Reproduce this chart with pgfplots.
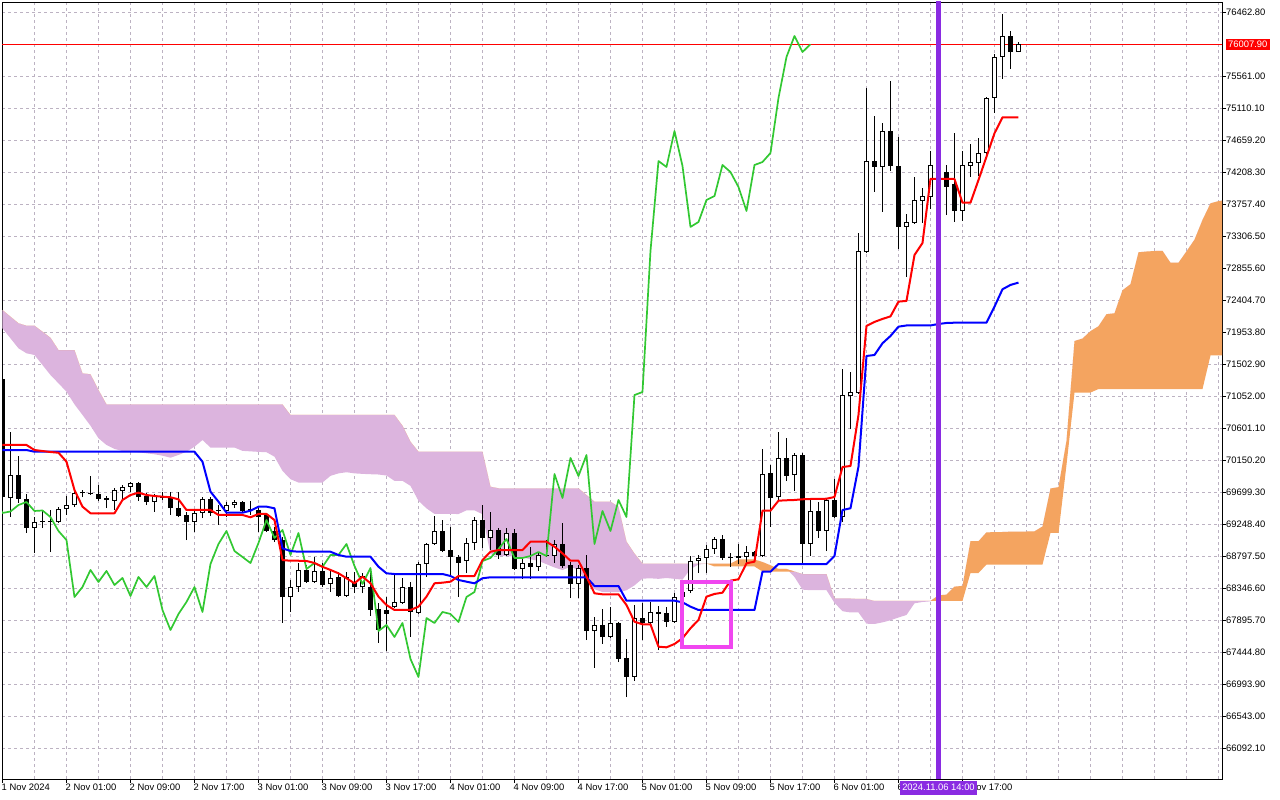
\documentclass[border=0pt]{standalone}
\usepackage{pgfplots}
\pgfplotsset{compat=1.18}
\usepackage{pgfplotstable}
\usepgfplotslibrary{fillbetween}
\usepackage{fontspec}
\setmainfont{Liberation Sans}
\definecolor{kumoDown}{RGB}{220,180,222}
\definecolor{kumoUp}{RGB}{244,164,96}
\definecolor{gridc}{RGB}{188,178,194}
\definecolor{chikou}{RGB}{50,200,50}
\definecolor{vline}{RGB}{138,43,226}
\definecolor{boxc}{RGB}{240,70,240}

% candles: hour index from 1 Nov 17:00, open high low close
\pgfplotstableread{
k o h l c
0 71292 71306 69587 69629
1 69615 70545 69347 69939
2 69939 70207 69545 69601
3 69601 69671 69122 69192
4 69192 69347 68840 69277
5 69291 69446 69192 69277
6 69284 69446 68854 69277
7 69277 69488 69263 69460
8 69460 69643 69376 69516
9 69516 69714 69488 69686
10 69679 69728 69629 69686
11 69686 69925 69664 69671
12 69671 69798 69573 69601
13 69615 69643 69474 69587
14 69573 69756 69446 69728
15 69714 69798 69587 69770
16 69770 69841 69700 69826
17 69826 69841 69573 69629
18 69643 69686 69516 69559
19 69559 69671 69418 69643
20 69643 69700 69587 69615
21 69615 69700 69376 69474
22 69474 69700 69347 69362
23 69376 69418 69023 69277
24 69277 69446 69136 69404
25 69404 69629 69333 69601
26 69601 69629 69362 69404
27 69432 69516 69235 69425
28 69432 69559 69347 69516
29 69516 69587 69474 69559
30 69559 69573 69418 69432
31 69446 69573 69376 69439
32 69446 69474 69136 69347
33 69376 69404 69136 69150
34 69150 69207 68995 69023
35 69023 69066 67854 68220
36 68220 68460 68009 68361
37 68361 68699 68291 68601
38 68601 68671 68418 68432
39 68432 68784 68418 68587
40 68587 68699 68361 68389
41 68404 68601 68291 68488
42 68502 68573 68220 68234
43 68234 68573 68220 68502
44 68418 68573 68276 68361
45 68361 68558 68276 68516
46 68361 68629 67953 68037
47 68051 68136 67572 67755
48 68037 68220 67459 67981
49 68079 68530 68065 68150
50 68136 68488 68122 68361
51 68361 68432 67657 68009
52 67995 68713 67981 68685
53 68685 68981 68502 68967
54 68967 69362 68953 69150
55 69150 69305 68854 68868
56 68882 69207 68516 68784
57 68784 68812 68220 68699
58 68727 69052 68558 68981
59 68981 69347 68882 69305
60 69305 69516 68911 69052
61 69052 69418 68882 69164
62 69164 69192 68756 68812
63 68812 69192 68798 69122
64 69122 69178 68601 68615
65 68615 68784 68474 68699
66 68699 68925 68474 68643
67 68643 68854 68587 68812
68 68798 69023 68784 68812
69 68798 69023 68699 68967
70 68967 69263 68629 68657
71 68671 68713 68206 68404
72 68404 68671 68206 68629
73 68629 68812 67614 67741
74 67741 67939 67220 67826
75 67826 68051 67558 67657
76 67657 68079 67643 67854
77 67854 67868 67304 67347
78 67361 67628 66811 67093
79 67093 68107 67037 67924
80 67924 68136 67614 67854
81 67854 68150 67840 68009
82 68009 68093 67473 67981
83 67995 68079 67798 67868
84 67868 68276 67854 68220
85 68220 68347 68178 68291
86 68305 68798 68276 68727
87 68727 68812 68558 68770
88 68770 68953 68558 68896
89 68896 69066 68826 69037
90 69037 69094 68741 68770
91 68777 68840 68643 68770
92 68770 68967 68685 68798
93 68784 68939 68685 68854
94 68854 68868 68741 68798
95 68798 70305 68784 69953
96 69967 70080 69207 69615
97 69629 70545 69587 70179
98 70179 70461 69854 69925
99 69939 70249 69714 70221
100 70221 70249 68699 68967
101 68967 69615 68798 69432
102 69432 69559 69052 69150
103 69150 69601 68868 69587
104 69587 69883 69340 69347
105 69347 71433 69277 71066
106 71052 71390 70587 71108
107 71094 73349 71087 73095
108 73081 75392 73067 74363
109 74363 74998 73927 74279
110 74279 74899 73645 74786
111 74786 75491 74222 74293
112 74293 74702 73124 73434
113 73434 73617 72729 73504
114 73490 74138 73476 73814
115 73800 73983 73490 73870
116 73856 74504 73687 74307
117 74307 74377 74095 74208
118 74208 74307 73602 73997
119 74039 74758 73504 73659
120 73659 74504 73518 74307
121 74293 74603 74138 74349
122 74335 74688 74152 74476
123 74476 75265 74420 75251
124 75251 75871 75040 75829
125 75829 76435 75519 76125
126 76125 76195 75660 75899
127 75899 76040 75899 76008
}\candles

% Tenkan-sen (t) and Kijun-sen (kj)
\pgfplotstableread{
k t kj
0 70362 70291
1 70362 70291
2 70362 70291
3 70362 70291
4 70291 70267
5 70277 70267
6 70263 70267
7 70253 70267
8 70127 70267
9 69728 70267
10 69493 70267
11 69400 70267
12 69400 70267
13 69400 70267
14 69400 70267
15 69587 70267
16 69657 70267
17 69690 70267
18 69657 70267
19 69643 70267
20 69634 70267
21 69625 70267
22 69597 70267
23 69446 70267
24 69446 70267
25 69446 70127
26 69446 69704
27 69376 69563
28 69376 69408
29 69376 69408
30 69376 69408
31 69343 69436
32 69390 69493
33 69390 69493
34 69305 69470
35 68741 68906
36 68731 68868
37 68731 68858
38 68727 68858
39 68699 68858
40 68646 68858
41 68601 68858
42 68554 68812
43 68484 68788
44 68413 68788
45 68507 68788
46 68413 68788
47 68225 68647
48 68107 68554
49 68037 68544
50 68037 68544
51 68037 68544
52 68084 68544
53 68225 68544
54 68413 68544
55 68422 68544
56 68436 68516
57 68516 68460
58 68516 68436
59 68516 68413
60 68741 68484
61 68858 68498
62 68882 68498
63 68882 68498
64 68882 68498
65 68882 68498
66 68999 68498
67 68999 68498
68 68999 68498
69 68929 68498
70 68835 68498
71 68731 68498
72 68731 68498
73 68507 68498
74 68272 68375
75 68258 68375
76 68258 68375
77 68258 68375
78 68107 68168
79 67872 68168
80 67835 68168
81 67835 68168
82 67520 68168
83 67511 68168
84 67558 68168
85 67639 68145
86 67780 68084
87 67897 68037
88 68225 68037
89 68263 68037
90 68281 68037
91 68450 68037
92 68470 68037
93 68695 68037
94 68718 68037
95 69436 68577
96 69436 68577
97 69577 68685
98 69583 68685
99 69587 68685
100 69597 68685
101 69601 68685
102 69601 68685
103 69605 68685
104 69629 68798
105 70052 69446
106 70066 69470
107 70785 70057
108 72039 71616
109 72096 71630
110 72138 71795
111 72174 71898
112 72382 72029
113 72392 72046
114 73038 72046
115 73208 72046
116 74110 72046
117 74110 72067
118 74110 72081
119 74110 72085
120 73776 72085
121 73776 72085
122 74096 72085
123 74424 72085
124 74754 72311
125 74979 72556
126 74979 72617
127 74979 72650
}\lines

% Senkou span A (a) and B (b), already shifted 26 bars ahead
\pgfplotstableread{
k a b
0 72006 72264
1 71865 72170
2 71724 72077
3 71654 72043
4 71630 72043
5 71489 71958
6 71348 71873
7 71231 71700
8 71113 71700
9 70935 71700
10 70785 71372
11 70634 71358
12 70457 71137
13 70362 70935
14 70306 70933
15 70277 70933
16 70267 70933
17 70259 70933
18 70245 70933
19 70231 70933
20 70211 70933
21 70183 70933
22 70221 70933
23 70267 70933
24 70338 70933
25 70432 70933
26 70326 70933
27 70326 70933
28 70326 70933
29 70326 70933
30 70279 70933
31 70272 70933
32 70265 70933
33 70260 70933
34 70197 70933
35 69997 70933
36 69880 70785
37 69833 70785
38 69833 70785
39 69833 70785
40 69833 70785
41 69927 70785
42 69962 70785
43 69978 70785
44 69962 70785
45 69955 70785
46 69950 70785
47 69946 70785
48 69932 70785
49 69857 70785
50 69857 70634
51 69786 70408
52 69575 70267
53 69469 70267
54 69391 70267
55 69391 70267
56 69391 70267
57 69389 70267
58 69441 70267
59 69441 70267
60 69387 70267
61 68823 69774
62 68800 69752
63 68795 69752
64 68793 69752
65 68778 69752
66 68752 69752
67 68729 69752
68 68682 69752
69 68636 69752
70 68600 69752
71 68647 69752
72 68600 69752
73 68435 69657
74 68330 69563
75 68290 69563
76 68290 69563
77 68290 69492
78 68314 69002
79 68384 68833
80 68479 68692
81 68483 68692
82 68476 68692
83 68488 68692
84 68476 68692
85 68465 68692
86 68613 68692
87 68678 68692
88 68690 68692
89 68690 68650
90 68690 68650
91 68690 68650
92 68749 68650
93 68749 68650
94 68749 68650
95 68713 68579
96 68667 68579
97 68615 68579
98 68615 68579
99 68502 68579
100 68324 68544
101 68316 68544
102 68316 68544
103 68316 68544
104 68138 68199
105 68020 68199
106 68002 68199
107 68002 68192
108 67844 68192
109 67840 68164
110 67863 68164
111 67892 68164
112 67931 68164
113 67967 68164
114 68131 68164
115 68150 68164
116 68159 68164
117 68244 68164
118 68253 68164
119 68366 68164
120 68377 68164
121 69006 68558
122 69006 68558
123 69131 68678
124 69134 68678
125 69136 68678
126 69141 68678
127 69143 68678
128 69143 68678
129 69145 68678
130 69214 68678
131 69749 69122
132 69768 69122
133 70420 70080
134 71827 71101
135 71862 71101
136 71966 71101
137 72035 71150
138 72205 71150
139 72218 71150
140 72542 71150
141 72627 71150
142 73077 71150
143 73088 71150
144 73095 71150
145 73097 71150
146 72930 71150
147 72930 71150
148 73090 71150
149 73255 71150
150 73532 71150
151 73767 71623
152 73798 71623
153 73814 71623
}\kumo

\begin{document}
\begin{tikzpicture}
\begin{axis}[
  scale only axis,
  width=1220pt, height=777pt,
  xmin=-0.06, xmax=152.44,
  ymin=65655.8, ymax=76603.7,
  axis line style={black, line width=0.8pt},
  tick align=outside,
  major tick length=4pt,
  tick style={black, line width=0.8pt},
  xtick pos=lower,
  ytick pos=upper,
  yticklabel pos=upper,
  xtick={0,8,...,120},
  xticklabels={1 Nov 2024, 2 Nov 01:00, 2 Nov 09:00, 2 Nov 17:00, 3 Nov 01:00, 3 Nov 09:00, 3 Nov 17:00, 4 Nov 01:00, 4 Nov 09:00, 4 Nov 17:00, 5 Nov 01:00, 5 Nov 09:00, 5 Nov 17:00, 6 Nov 01:00, 6 Nov 09:00, 6 Nov 17:00},
  extra x ticks={4,8,...,152},
  extra x tick labels={},
  extra x tick style={grid=major, major tick length=0pt},
  ytick={66092.1,66543.0,66993.9,67444.8,67895.7,68346.6,68797.5,69248.4,69699.3,70150.2,70601.1,71052.0,71502.9,71953.8,72404.7,72855.6,73306.5,73757.4,74208.3,74659.2,75110.1,75561.0,76462.8},
  yticklabels={66092.10,66543.00,66993.90,67444.80,67895.70,68346.60,68797.50,69248.40,69699.30,70150.20,70601.10,71052.00,71502.90,71953.80,72404.70,72855.60,73306.50,73757.40,74208.30,74659.20,75110.10,75561.00,76462.80},
  ymajorgrids,
  grid style={draw=gridc, dash pattern=on 3pt off 3pt, line width=0.8pt},
  every tick label/.append style={font=\fontsize{9.4}{11}\selectfont},
  xticklabel style={anchor=north west, inner sep=0pt, xshift=-1pt, yshift=-1pt},
  yticklabel style={anchor=west, inner sep=0pt, xshift=0pt},
]
% cloud
\addplot[draw=none, name path=SA] table[x=k, y=a] {\kumo};
\addplot[draw=none, name path=SB] table[x=k, y=b] {\kumo};
\addplot[draw=none, name path=SM] table[x=k, y expr={max(\thisrow{a},\thisrow{b})}] {\kumo};
\addplot[fill=kumoDown, draw=none] fill between[of=SA and SM];
\addplot[fill=kumoUp, draw=none] fill between[of=SB and SM];
% bid line
\addplot[red, line width=0.7pt] coordinates {(-1,76007.9) (160,76007.9)};
% wicks
\addplot[draw=none, mark=none,
  error bars/.cd, y dir=plus, y explicit, error mark=none,
  error bar style={draw=black, line width=1pt}]
  table[x=k, y=l, y error plus expr={\thisrow{h}-\thisrow{l}}] {\candles};
% bearish bodies
\addplot[draw=none, mark=none,
  restrict expr to domain={\thisrow{o}-\thisrow{c}}{0.5:1000000},
  error bars/.cd, y dir=plus, y explicit, error mark=none,
  error bar style={draw=black, line width=5pt}]
  table[x=k, y=c, y error plus expr={max(\thisrow{o}-\thisrow{c},14)}] {\candles};
% bullish bodies
\addplot[draw=none, mark=none,
  restrict expr to domain={\thisrow{c}-\thisrow{o}}{0:1000000},
  error bars/.cd, y dir=plus, y explicit, error mark=none,
  error bar style={draw=black, line width=5pt}]
  table[x=k, y=o, y error plus expr={max(\thisrow{c}-\thisrow{o},14)}] {\candles};
\addplot[draw=none, mark=none,
  restrict expr to domain={\thisrow{c}-\thisrow{o}}{0:1000000},
  error bars/.cd, y dir=plus, y explicit, error mark=none,
  error bar style={draw=white, line width=3pt}]
  table[x=k, y expr={\thisrow{o}+14.1}, y error plus expr={max(\thisrow{c}-\thisrow{o}-28.2,0)}] {\candles};
% Chikou span (close shifted 26 bars back)
\addplot[chikou, line width=1.7pt, line join=round] table[x expr={\thisrow{k}-26}, y=c] {\candles};
% Kijun-sen
\addplot[blue, line width=2pt, line join=round] table[x=k, y=kj] {\lines};
% Tenkan-sen
\addplot[red, line width=2pt, line join=round] table[x=k, y=t] {\lines};
% highlight rectangle
\addplot[boxc, line width=4pt, line cap=rect, line join=miter] coordinates {(84.94,68431) (91.02,68431) (91.02,67511) (84.94,67511) (84.94,68431)};
% vertical line
\addplot[vline, line width=4.5pt] coordinates {(117,65000) (117,77000)};
\coordinate (BL) at (rel axis cs:0,0);
\coordinate (TR) at (rel axis cs:1,1);
\coordinate (VB) at (axis cs:117,65655.8);
\coordinate (BID) at (axis cs:152.44,76007.9);
\end{axis}
\node[fill=vline, text=white, anchor=north, inner xsep=2pt, inner ysep=2.5pt, text height=7pt, text depth=1.5pt, font=\fontsize{9.4}{11}\selectfont] at ([yshift=-2pt]VB) {2024.11.06 14:00};
\node[fill=red, text=white, anchor=west, inner xsep=2.5pt, inner ysep=1.5pt, text height=7pt, text depth=0.5pt, font=\fontsize{9.4}{11}\selectfont] at ([xshift=3.5pt]BID) {76007.90};
\pgfresetboundingbox
\path ([shift={(-2pt,-21pt)}]BL) rectangle ([shift={(58pt,2pt)}]TR);
\end{tikzpicture}
\end{document}
